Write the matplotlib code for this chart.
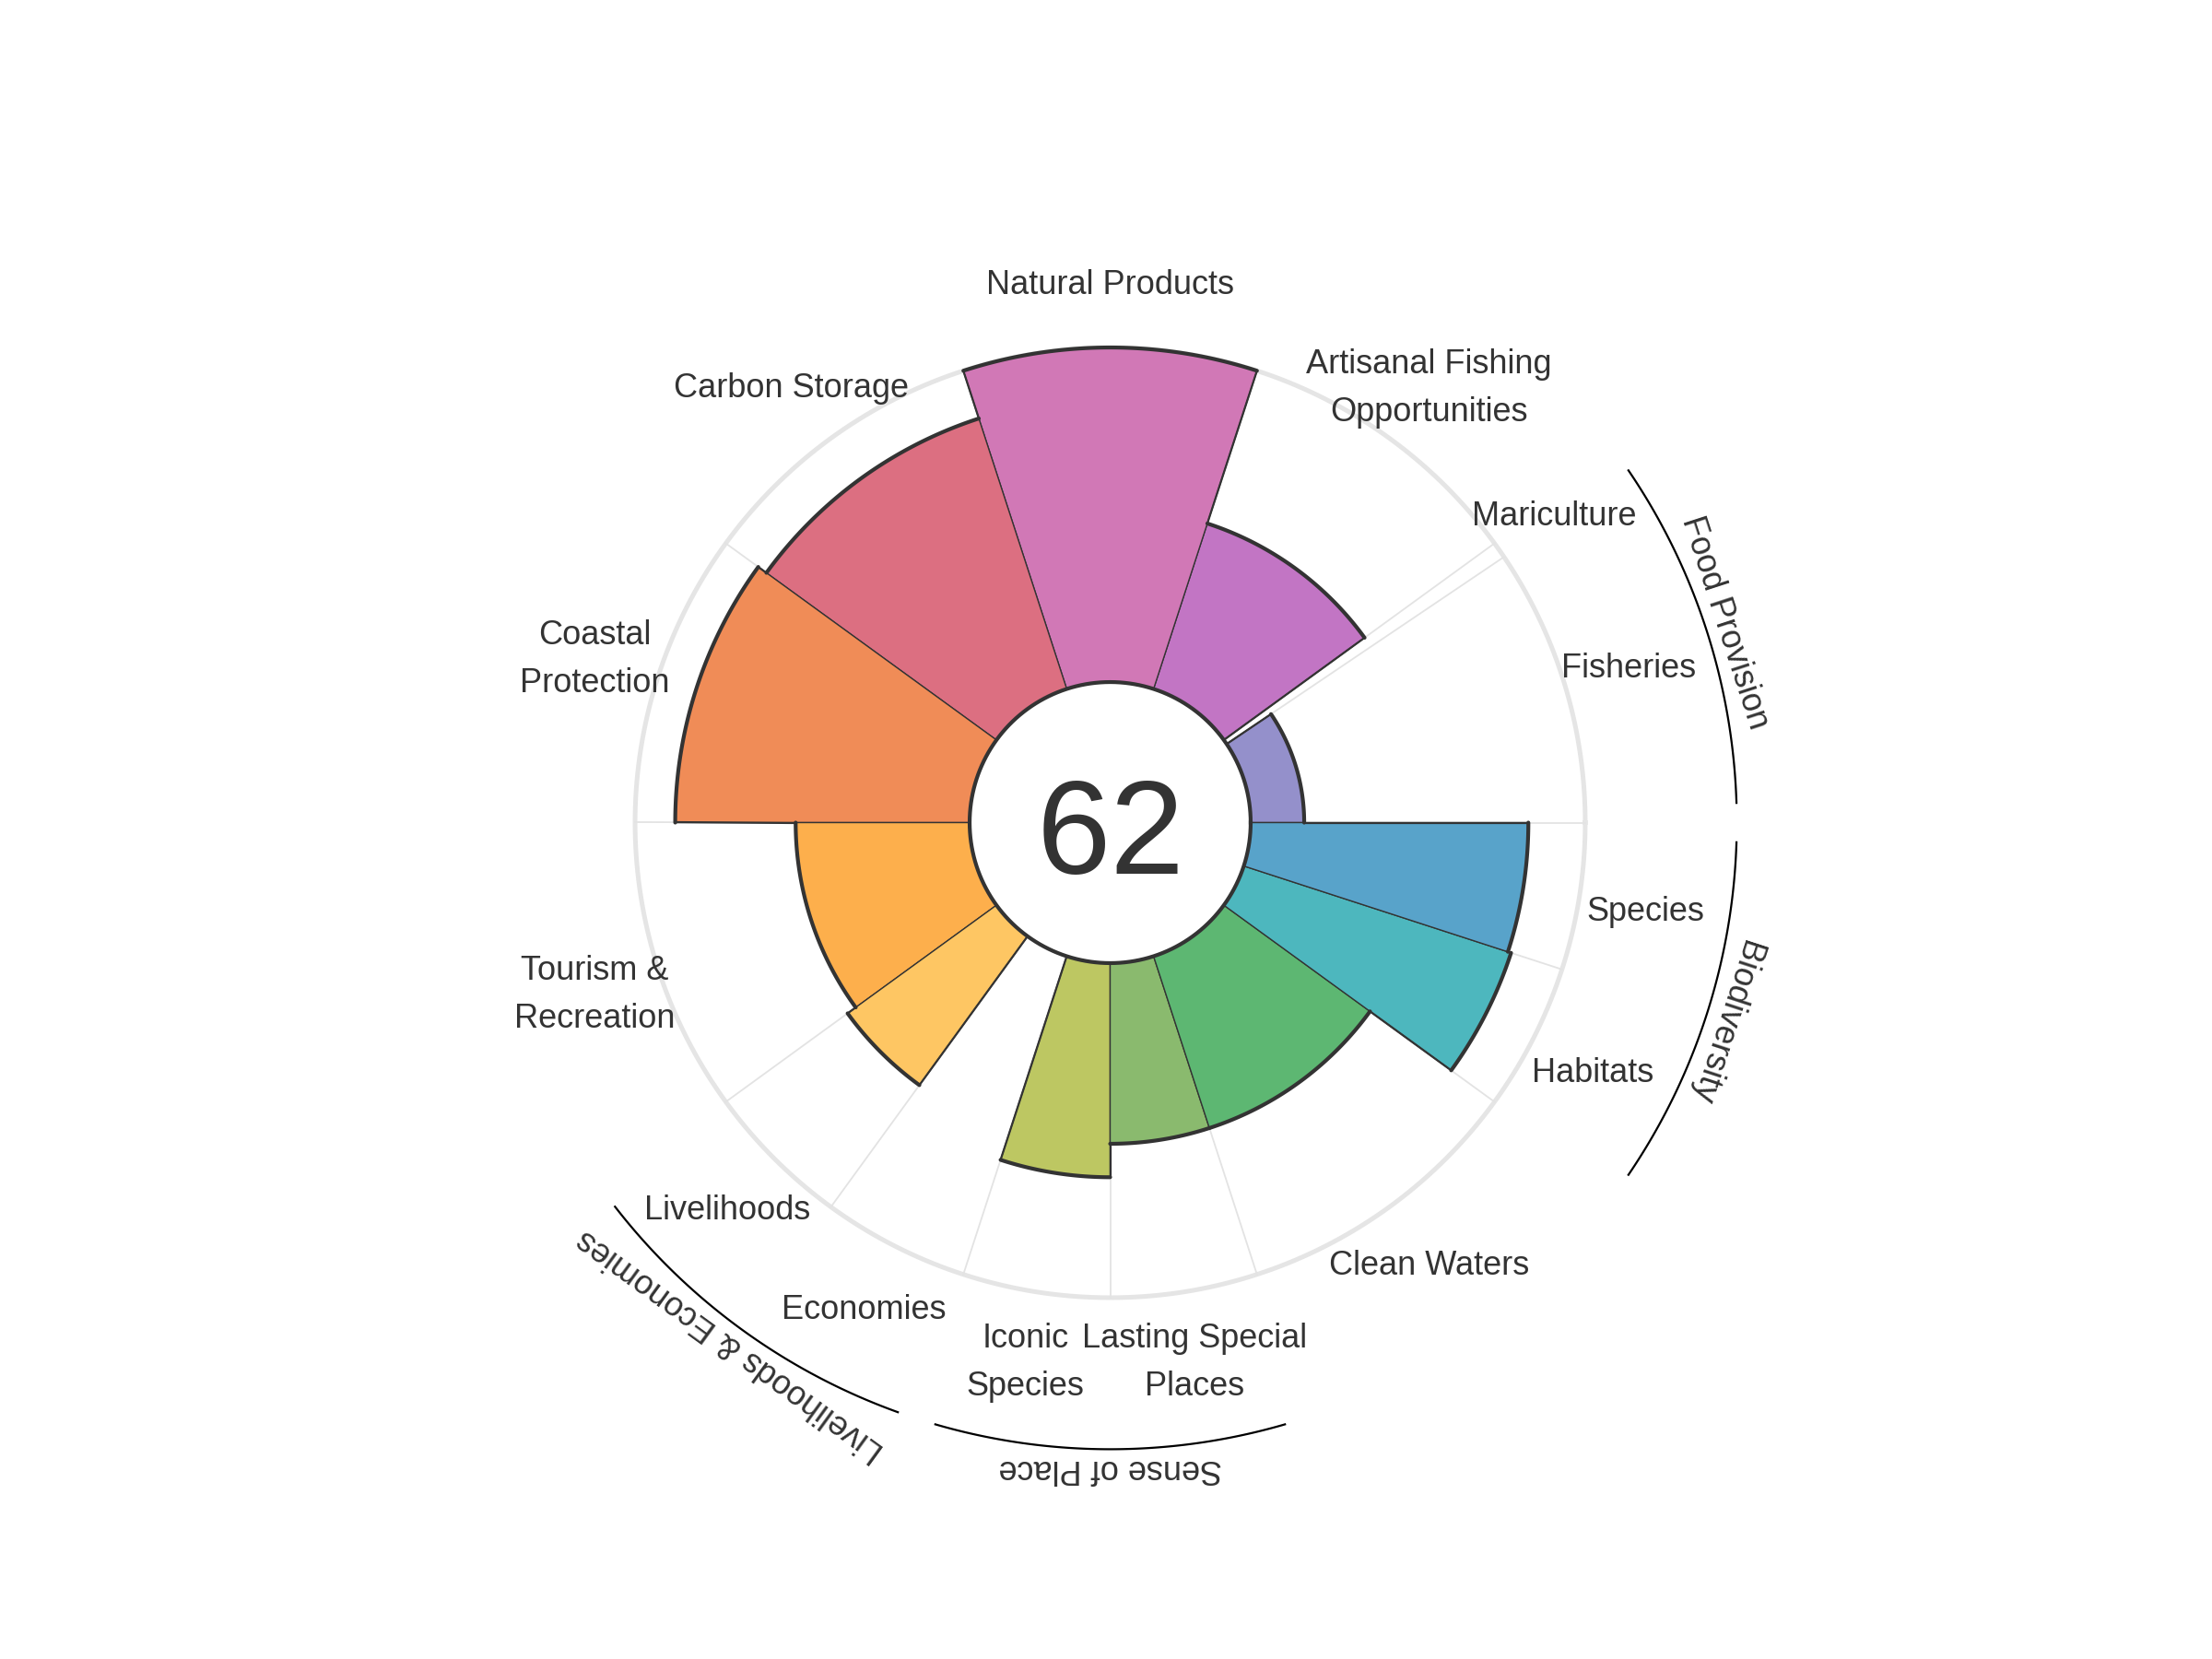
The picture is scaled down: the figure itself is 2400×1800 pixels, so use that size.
import numpy as np
import matplotlib
matplotlib.use("Agg")
import matplotlib.pyplot as plt
from matplotlib.transforms import offset_copy

plt.rcParams['font.family'] = ['Liberation Sans', 'DejaVu Sans']

# ---- data -------------------------------------------------------------
labels = ["Fisheries", "Mariculture", "Artisanal Fishing\nOpportunities",
          "Natural Products", "Carbon Storage", "Coastal\nProtection",
          "Tourism &\nRecreation", "Livelihoods", "Economies",
          "Iconic\nSpecies", "Lasting Special\nPlaces", "Clean Waters",
          "Habitats", "Species"]
scores = [16, 0, 52, 100, 85, 88, 52, 55, 0, 64, 54, 54, 84, 83]
widths_deg = [34, 2, 36, 36, 36, 36, 36, 18, 18, 18, 18, 36, 18, 18]
colors = ["#9490CB", "#A58BD0", "#C275C4", "#D178B6", "#DC6F81", "#F08C57",
          "#FDAF4C", "#FEC663", "#F9E174", "#BDC762", "#8ABA6E", "#5DB772",
          "#4DB7BE", "#58A3CA"]
groups = ["Food Provision", "Livelihoods & Economies", "Sense of Place", "Biodiversity"]
group_members = [(0, 1), (7, 8), (9, 10), (12, 13)]
index_score = 62

# ---- geometry ---------------------------------------------------------
INNER = 42.0          # radius of centre circle (data units)
FULL = 100.0          # full score
LABEL_R = 162.0
ARC_R = 187.3
GROUP_R = 193.0
RMAX = 200.0
DARK = "#333333"

fig = plt.figure(figsize=(24, 18), dpi=100)
fig.patch.set_facecolor("white")
cx, cy, rad = 1204.5, 892.5, 726.0
ax = fig.add_axes([(cx - rad) / 2400, (1800 - cy - rad) / 1800, 2 * rad / 2400, 2 * rad / 1800],
                  projection="polar")
ax.set_ylim(0, RMAX)
ax.set_axis_off()

w = np.deg2rad(np.array(widths_deg, dtype=float))
starts = np.concatenate([[0.0], np.cumsum(w)[:-1]])
mids = starts + w / 2
vals = np.array(scores, dtype=float)

# background grid: outer circle and radial separators
tt = np.linspace(0, 2 * np.pi, 721)
ax.plot(tt, np.full_like(tt, INNER + FULL), color="#E5E5E5", lw=3.6, zorder=0.5)
for s in starts:
    ax.plot([s, s], [INNER, INNER + FULL], color="#E3E3E3", lw=1.3, zorder=0.6)

# petals
mask = vals > 0
ax.bar(mids[mask], vals[mask], width=w[mask], bottom=INNER,
       color=np.array(colors)[mask], edgecolor=DARK, linewidth=1.0, zorder=2)

# outer envelope
n = len(vals)
for i in range(n):
    if vals[i] > 0:
        th = np.linspace(starts[i], starts[i] + w[i], 100)
        ax.plot(th, np.full_like(th, INNER + vals[i]), color=DARK, lw=3.0,
                solid_capstyle="round", zorder=3)
for i in range(n):
    j = (i + 1) % n
    t = starts[j] if j != 0 else 2 * np.pi
    lo, hi = sorted([vals[i], vals[j]])
    if hi > 0:
        ax.plot([t, t], [INNER + lo, INNER + hi], color=DARK, lw=1.6, zorder=3)

# centre circle
ax.fill(tt, np.full_like(tt, INNER), color="white", zorder=4)
ax.plot(tt, np.full_like(tt, INNER), color=DARK, lw=3.0, zorder=5)

# goal labels
lab_tr = offset_copy(ax.transData, fig=fig, x=0, y=-5, units="dots")
for m, lab in zip(mids, labels):
    ax.text(m, LABEL_R, lab, ha="center", va="center", fontsize=26,
            color=DARK, linespacing=1.64, zorder=6, transform=lab_tr)

# group arcs and labels
pad = np.deg2rad(1.8)
for g, (a, b) in zip(groups, group_members):
    t0 = starts[a]
    t1 = starts[b] + w[b]
    th = np.linspace(t0 + pad, t1 - pad, 100)
    ax.plot(th, np.full_like(th, ARC_R), color="black", lw=1.6, zorder=3)
    m = (t0 + t1) / 2
    rot = np.rad2deg(m) - 90
    ax.text(m, GROUP_R, g, ha="center", va="center", rotation=rot,
            rotation_mode="anchor", fontsize=26, color=DARK, zorder=6)

# index score
fig.text(1205.5 / 2400, (1800 - 948) / 1800, str(index_score), ha="center",
         va="baseline", fontsize=104, color=DARK)

fig.savefig("out.png", dpi=100, facecolor="white")
